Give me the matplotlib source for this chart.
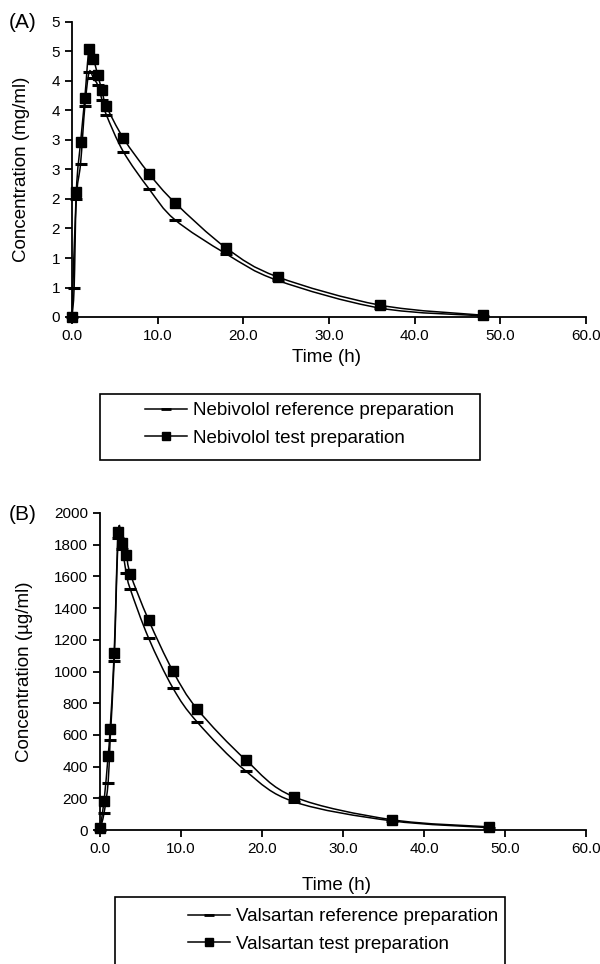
import math
import matplotlib
matplotlib.use("Agg")
import matplotlib.pyplot as plt
from matplotlib.ticker import FuncFormatter, MultipleLocator
from matplotlib.path import Path
from matplotlib.patches import PathPatch, Rectangle
from matplotlib.lines import Line2D

plt.rcParams['font.family'] = ['Liberation Sans', 'DejaVu Sans']

# ---- Panel A: Nebivolol (mg/ml) ----
neb_ref_t = [0, 0.25, 0.5, 1.0, 1.5, 2.0, 2.5, 3.0, 3.5, 4.0, 6, 9, 12, 18, 24, 36, 48]
neb_ref_c = [0.0, 0.5, 2.0, 2.6, 3.57, 4.15, 4.05, 3.93, 3.68, 3.43, 2.8, 2.17, 1.65, 1.07, 0.62, 0.15, 0.02]
neb_test_t = [0, 0.5, 1.0, 1.5, 2.0, 2.5, 3.0, 3.5, 4.0, 6, 9, 12, 18, 24, 36, 48]
neb_test_c = [0.0, 2.12, 2.96, 3.72, 4.55, 4.38, 4.1, 3.84, 3.58, 3.03, 2.43, 1.94, 1.17, 0.68, 0.2, 0.03]

# ---- Panel B: Valsartan (ug/ml) ----
val_t = [0, 0.5, 1.0, 1.25, 1.75, 2.25, 2.75, 3.25, 3.75, 6, 9, 12, 18, 24, 36, 48]
val_ref_c = [0, 107, 297, 568, 1066, 1840, 1770, 1620, 1518, 1211, 896, 681, 372, 177, 58, 15]
val_test_c = [10, 183, 467, 637, 1117, 1880, 1811, 1738, 1615, 1325, 1003, 763, 442, 208, 65, 20]

labels_A = ["Nebivolol reference preparation", "Nebivolol test preparation"]
labels_B = ["Valsartan reference preparation", "Valsartan test preparation"]

W, H = 600, 964
fig = plt.figure(figsize=(W/100, H/100), dpi=100)

axA = fig.add_axes([72/W, 1-317/H, (586-72)/W, (317-22)/H])
axB = fig.add_axes([100/W, 1-830/H, (586-100)/W, (830-513)/H])

LW = 1.1
FS_TICK = 11
FS_LAB = 13.5


def smooth_curve(ax, xs, ys):
    """Draw a smoothed (Catmull-Rom style Bezier) line through the data points
    in screen-proportional coordinates, like a spreadsheet 'smoothed line'."""
    x0, x1 = ax.get_xlim()
    y0, y1 = ax.get_ylim()
    bb = ax.get_position()
    sx = bb.width * W / (x1 - x0)
    sy = bb.height * H / (y1 - y0)
    P = [(x * sx, y * sy) for x, y in zip(xs, ys)]
    n = len(P)
    verts = [P[0]]
    codes = [Path.MOVETO]
    for i in range(n - 1):
        p0 = P[i - 1] if i > 0 else P[i]
        p1 = P[i]
        p2 = P[i + 1]
        p3 = P[i + 2] if i + 2 < n else P[i + 1]
        c1 = (p1[0] + (p2[0] - p0[0]) / 6, p1[1] + (p2[1] - p0[1]) / 6)
        c2 = (p2[0] - (p3[0] - p1[0]) / 6, p2[1] - (p3[1] - p1[1]) / 6)
        verts += [c1, c2, p2]
        codes += [Path.CURVE4] * 3
    verts = [(vx / sx, vy / sy) for vx, vy in verts]
    ax.add_patch(PathPatch(Path(verts, codes), fill=False, edgecolor='black',
                           lw=LW, clip_on=False, zorder=2))


def style(ax):
    for s in ['top', 'right']:
        ax.spines[s].set_visible(False)
    for s in ['left', 'bottom']:
        ax.spines[s].set_linewidth(1.3)
    ax.tick_params(direction='out', length=5, width=1.3, labelsize=FS_TICK,
                   colors='black', pad=3.5)
    ax.set_xlim(0, 60)
    ax.xaxis.set_major_locator(MultipleLocator(10))
    ax.xaxis.set_major_formatter(FuncFormatter(lambda v, p: f"{v:.1f}"))


# Panel A
style(axA)
axA.set_ylim(0, 5)
axA.yaxis.set_major_locator(MultipleLocator(0.5))
axA.yaxis.set_major_formatter(FuncFormatter(lambda v, p: str(int(math.floor(v + 0.5 + 1e-9)))))
smooth_curve(axA, neb_ref_t, neb_ref_c)
smooth_curve(axA, neb_test_t, neb_test_c)
axA.plot(neb_ref_t, neb_ref_c, ls='none', color='black', marker='_', ms=9, mew=2.2, clip_on=False, zorder=3)
axA.plot(neb_test_t, neb_test_c, ls='none', color='black', marker='s', ms=7.5, clip_on=False, zorder=3)
axA.set_xlabel("Time (h)", fontsize=FS_LAB)
axA.xaxis.set_label_coords(0.5 + (326 - 329) / 514, (317 - 357) / 295)
axA.xaxis.label.set_va('center')
axA.set_ylabel("Concentration (mg/ml)", fontsize=FS_LAB)
axA.yaxis.set_label_coords((22 - 72) / 514, 0.5)
axA.yaxis.label.set_va('center')
fig.text(23/W, 1-23/H, "(A)", fontsize=15, ha='center', va='center')

# Panel B
style(axB)
axB.set_ylim(0, 2000)
axB.yaxis.set_major_locator(MultipleLocator(200))
smooth_curve(axB, val_t, val_ref_c)
smooth_curve(axB, val_t, val_test_c)
axB.plot(val_t, val_ref_c, ls='none', color='black', marker='_', ms=9, mew=2.2, clip_on=False, zorder=3)
axB.plot(val_t, val_test_c, ls='none', color='black', marker='s', ms=7.5, clip_on=False, zorder=3)
axB.set_xlabel("Time (h)", fontsize=FS_LAB)
axB.xaxis.set_label_coords(0.5 + (337 - 343) / 486, (830 - 885) / 317)
axB.xaxis.label.set_va('center')
axB.set_ylabel("Concentration (\u00b5g/ml)", fontsize=FS_LAB)
axB.yaxis.set_label_coords((25 - 100) / 486, 0.5)
axB.yaxis.label.set_va('center')
fig.text(23/W, 1-515/H, "(B)", fontsize=15, ha='center', va='center')


def make_legend(labels, box, handle_x, row1_y):
    hr = Line2D([], [], color='black', lw=LW, marker='_', ms=7, mew=2.0)
    ht = Line2D([], [], color='black', lw=LW, marker='s', ms=5.5)
    leg = fig.legend([hr, ht], labels, loc='upper left',
                     bbox_to_anchor=(handle_x / W, 1 - (row1_y - 11) / H),
                     bbox_transform=fig.transFigure, fontsize=FS_LAB, frameon=False,
                     handlelength=2.25, handletextpad=0.3, borderpad=0.0,
                     borderaxespad=0.0, labelspacing=0.55)
    x0, y0, x1, y1 = box
    fig.add_artist(Rectangle((x0 / W, 1 - y1 / H), (x1 - x0) / W, (y1 - y0) / H,
                             transform=fig.transFigure, fill=False,
                             edgecolor='black', lw=1.2))
    return leg


make_legend(labels_A, (100, 394, 480, 460), 145, 413)
make_legend(labels_B, (115, 897, 505, 990), 188, 919)

fig.savefig("out.png", dpi=100, facecolor='white')
